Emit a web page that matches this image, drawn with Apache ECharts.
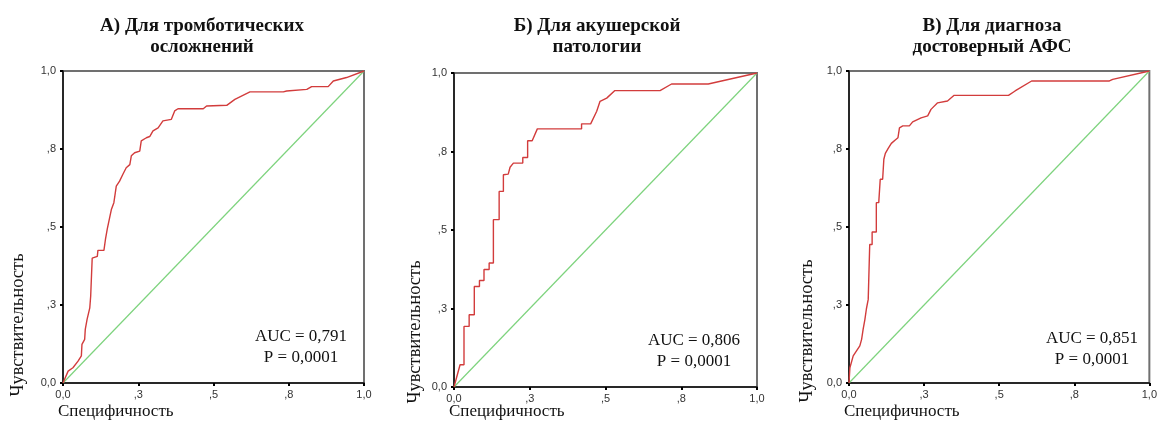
<!DOCTYPE html>
<html>
<head>
<meta charset="utf-8">
<script src="https://cdn.jsdelivr.net/npm/echarts@6/dist/echarts.min.js"></script>
<style>
  html, body { margin: 0; padding: 0; background: #fff; }
  #chart { width: 1160px; height: 429px; }
</style>
</head>
<body>
<div id="chart"></div>
<script>
// ROC-кривые
const specA = [0, 0.017, 0.033, 0.05, 0.061, 0.063, 0.072, 0.074, 0.08, 0.089, 0.092, 0.097, 0.114, 0.116, 0.136, 0.141, 0.147, 0.155, 0.161, 0.169, 0.177, 0.188, 0.199, 0.21, 0.222, 0.227, 0.238, 0.255, 0.26, 0.277, 0.288, 0.299, 0.316, 0.332, 0.338, 0.36, 0.371, 0.382, 0.466, 0.477, 0.544, 0.571, 0.621, 0.732, 0.743, 0.81, 0.826, 0.881, 0.898, 0.942, 1]
const sensA = [0, 0.038, 0.049, 0.07, 0.087, 0.124, 0.14, 0.172, 0.204, 0.241, 0.279, 0.40, 0.406, 0.425, 0.425, 0.46, 0.493, 0.53, 0.557, 0.578, 0.631, 0.647, 0.669, 0.69, 0.70, 0.728, 0.738, 0.743, 0.776, 0.786, 0.79, 0.808, 0.818, 0.84, 0.845, 0.845, 0.872, 0.879, 0.879, 0.888, 0.89, 0.909, 0.933, 0.933, 0.936, 0.941, 0.95, 0.95, 0.968, 0.979, 1]

const specB = [0, 0.02, 0.033, 0.033, 0.05, 0.05, 0.067, 0.067, 0.084, 0.084, 0.099, 0.099, 0.116, 0.116, 0.13, 0.13, 0.149, 0.149, 0.163, 0.163, 0.179, 0.185, 0.196, 0.227, 0.227, 0.243, 0.243, 0.258, 0.275, 0.421, 0.421, 0.451, 0.471, 0.482, 0.504, 0.531, 0.68, 0.718, 0.839, 1]
const sensB = [0, 0.071, 0.071, 0.193, 0.193, 0.23, 0.23, 0.32, 0.32, 0.339, 0.339, 0.374, 0.374, 0.395, 0.395, 0.533, 0.533, 0.623, 0.623, 0.676, 0.678, 0.70, 0.713, 0.713, 0.731, 0.731, 0.784, 0.784, 0.822, 0.822, 0.838, 0.838, 0.878, 0.91, 0.92, 0.944, 0.944, 0.965, 0.965, 1]

const specC = [0, 0.003, 0.014, 0.025, 0.036, 0.042, 0.047, 0.053, 0.058, 0.064, 0.069, 0.077, 0.077, 0.091, 0.091, 0.099, 0.104, 0.112, 0.116, 0.121, 0.13, 0.141, 0.154, 0.163, 0.168, 0.179, 0.201, 0.212, 0.24, 0.262, 0.273, 0.295, 0.328, 0.35, 0.531, 0.553, 0.608, 0.867, 0.878, 1]
const sensC = [0, 0.049, 0.087, 0.103, 0.119, 0.14, 0.172, 0.204, 0.238, 0.268, 0.444, 0.444, 0.484, 0.484, 0.578, 0.578, 0.653, 0.653, 0.717, 0.736, 0.751, 0.768, 0.779, 0.786, 0.818, 0.824, 0.824, 0.837, 0.85, 0.856, 0.877, 0.898, 0.904, 0.922, 0.922, 0.936, 0.968, 0.968, 0.973, 1]

// опорная диагональ
const diagX = [0, 1]
const diagY = [0, 1]

const tickValues = [0, 0.25, 0.5, 0.75, 1]
const tickLabels = ['0,0', ',3', ',5', ',8', '1,0']

const titles = ['А) Для тромботических\nосложнений', 'Б) Для акушерской\nпатологии', 'В) Для диагноза\nдостоверный АФС']
const aucs = ['AUC = 0,791', 'AUC = 0,806', 'AUC = 0,851']
const pvals = ['P = 0,0001', 'P = 0,0001', 'P = 0,0001']

const curves = [[specA, sensA], [specB, sensB], [specC, sensC]]

// расположение панелей
const panels = [
  { left: 63, top: 71, width: 301, height: 312, titleX: 202, yNameX: 18, yNameY: 325, aucX: 301, aucY: 337 },
  { left: 454, top: 73, width: 303, height: 314, titleX: 597, yNameX: 415, yNameY: 332, aucX: 694, aucY: 341 },
  { left: 849, top: 71, width: 303, height: 312, titleX: 992, yNameX: 807, yNameY: 331, aucX: 1092, aucY: 339 }
]

const serif = '"Liberation Serif", "DejaVu Serif", serif'
const sans = '"Liberation Sans", Arial, sans-serif'

function tickFmt(v) {
  const i = tickValues.findIndex(t => Math.abs(t - v) < 1e-6)
  return i >= 0 ? tickLabels[i] : ''
}

const option = {
  animation: false,
  backgroundColor: '#fff',
  title: [],
  grid: [],
  xAxis: [],
  yAxis: [],
  series: [],
  graphic: []
}

panels.forEach((p, i) => {
  option.title.push({
    text: titles[i],
    left: p.titleX,
    top: 16,
    padding: 0,
    textAlign: 'center',
    textStyle: { fontFamily: serif, fontWeight: 'bold', fontSize: 19, lineHeight: 21, color: '#111' }
  })
  option.grid.push({
    left: p.left, top: p.top, width: p.width, height: p.height,
    show: true, borderColor: '#707070', borderWidth: 2, backgroundColor: '#fff'
  })
  const axisCommon = {
    gridIndex: i,
    type: 'value',
    min: 0,
    max: 1,
    interval: 0.25,
    splitLine: { show: false },
    axisLine: { show: true, onZero: false, lineStyle: { color: '#111', width: 1.5 } },
    axisTick: { show: true, length: 3, lineStyle: { color: '#000', width: 2 } },
    axisLabel: { formatter: tickFmt, fontFamily: sans, fontSize: 11, color: '#333' }
  }
  option.xAxis.push(Object.assign({}, axisCommon, {
    axisLabel: Object.assign({}, axisCommon.axisLabel, { margin: 6 })
  }))
  option.yAxis.push(Object.assign({}, axisCommon, {
    axisLabel: Object.assign({}, axisCommon.axisLabel, { margin: 7 })
  }))

  option.series.push({
    type: 'line',
    xAxisIndex: i,
    yAxisIndex: i,
    data: diagX.map((x, k) => [x, diagY[k]]),
    symbol: 'none',
    lineStyle: { color: '#7dd37d', width: 1.2 },
    silent: true
  })
  option.series.push({
    type: 'line',
    xAxisIndex: i,
    yAxisIndex: i,
    data: curves[i][0].map((x, k) => [x, curves[i][1][k]]),
    symbol: 'none',
    lineStyle: { color: '#d23c3c', width: 1.4 },
    silent: true
  })

  // подписи осей и AUC
  option.graphic.push({
    type: 'text',
    x: p.yNameX,
    y: p.yNameY,
    rotation: Math.PI / 2,
    style: { text: 'Чувствительность', font: '18.5px ' + serif, fill: '#111', align: 'center', verticalAlign: 'middle' }
  })
  option.graphic.push({
    type: 'text',
    x: p.left - 5,
    y: 412,
    style: { text: 'Специфичность', font: '17px ' + serif, fill: '#111', align: 'left', verticalAlign: 'middle' }
  })
  option.graphic.push({
    type: 'text',
    x: p.aucX,
    y: p.aucY,
    style: { text: aucs[i], font: '17px ' + serif, fill: '#111', align: 'center', verticalAlign: 'middle' }
  })
  option.graphic.push({
    type: 'text',
    x: p.aucX,
    y: p.aucY + 21,
    style: { text: pvals[i], font: '17px ' + serif, fill: '#111', align: 'center', verticalAlign: 'middle' }
  })
})

const chart = echarts.init(document.getElementById('chart'))
chart.setOption(option)
window.addEventListener('resize', () => chart.resize())
</script>
</body>
</html>
